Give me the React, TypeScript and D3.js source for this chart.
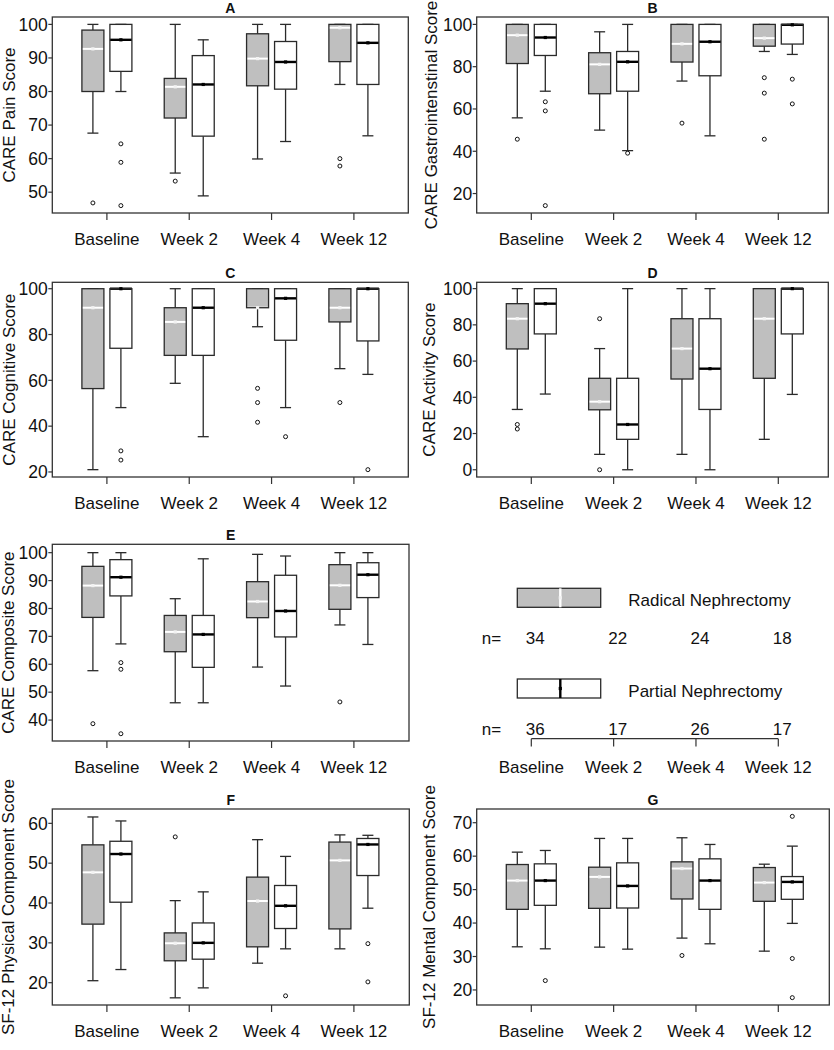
import React from "react";
import * as d3 from "d3";

const categories = ["Baseline", "Week 2", "Week 4", "Week 12"];

// [lowWhisker, Q1, median, Q3, highWhisker]
const painRN = [[67.6, 80, 92.7, 98.3, 100], [55.7, 72.1, 81.4, 83.9, 100], [59.9, 81.7, 89.8, 97.2, 100], [82.1, 88.9, 99, 100, 100]];
const painRNOut = [[46.8], [53.3], [], [60, 57.8]];
const painPN = [[80, 86, 95.4, 100, 100], [48.9, 66.7, 82.1, 90.7, 95.4], [65.1, 80.7, 88.8, 94.9, 100], [66.8, 82.1, 94.5, 100, 100]];
const painPNOut = [[64.4, 58.9, 46], [], [], []];

const giRN = [[55.8, 81.5, 94.9, 100, 100], [50, 67.2, 81.1, 86.6, 96.5], [73.2, 82.2, 90.8, 100, 100], [87.2, 89.7, 93.5, 100, 100]];
const giRNOut = [[45.7], [], [53.3], [74.8, 67.5, 45.7]];
const giPN = [[68.4, 85.3, 93.8, 100, 100], [40.3, 68.4, 82.3, 87.2, 100], [47.3, 75.7, 91.8, 100, 100], [85.8, 90.7, 99.8, 100, 100]];
const giPNOut = [[63.4, 59.1, 14.3], [39.1], [], [74.1, 62.4]];

const cogRN = [[21, 56.4, 91.7, 100, 100], [58.7, 70.9, 85.5, 91.7, 100], [83.4, 91.7, 91.7, 100, 100], [65.1, 85.5, 91.7, 100, 100]];
const cogRNOut = [[], [], [56.5, 50.3, 41.7], [50.3]];
const cogPN = [[48.1, 74, 100, 100, 100], [35.4, 70.9, 91.7, 100, 100], [48.1, 77.5, 95.8, 100, 100], [62.6, 77.2, 100, 100, 100]];
const cogPNOut = [[29.2, 25.2], [], [35.4], [21]];

const actRN = [[33.3, 66.7, 83.4, 91.7, 100], [8.5, 33.1, 37.6, 50.5, 66.9], [8.5, 50.1, 66.9, 83.4, 100], [16.8, 50.5, 83.4, 100, 100]];
const actRNOut = [[25, 22.5], [83.4, 0], [], []];
const actPN = [[41.8, 75, 91.7, 100, 100], [0, 16.8, 25, 50.5, 100], [0, 33.3, 55.8, 83.4, 100], [41.6, 75, 100, 100, 100]];
const actPNOut = [[], [], [], []];

const compRN = [[57.7, 76.8, 88.2, 95.1, 100], [46.2, 64.5, 71.6, 77.5, 83.5], [59, 76.7, 82.5, 89.6, 99.4], [74.1, 79.7, 88.3, 95.7, 100]];
const compRNOut = [[38.7], [], [], [46.5]];
const compPN = [[67.3, 84.5, 91.2, 97.5, 100], [46.2, 58.9, 70.7, 77.5, 97.8], [52.2, 69.8, 79.1, 91.9, 98.8], [67.1, 83.9, 92.1, 96.4, 100]];
const compPNOut = [[60.6, 58.2, 35.1], [], [], []];

const pcsRN = [[20.5, 34.7, 47.7, 54.6, 61.6], [16.2, 25.5, 29.9, 32.5, 40.6], [24.9, 29, 40.5, 46.5, 55.9], [28.5, 33.5, 50.7, 55.3, 57.1]];
const pcsRNOut = [[], [56.6], [], []];
const pcsPN = [[23.3, 40.2, 52.3, 55.5, 60.6], [18.7, 25.9, 30, 35, 42.8], [28.5, 33.6, 39.3, 44.4, 51.7], [38.7, 46.9, 54.7, 56.2, 57]];
const pcsPNOut = [[], [], [16.7], [29.8, 20.2]];

const mcsRN = [[32.9, 44.1, 52.7, 57.5, 61.2], [32.8, 44.4, 53.8, 56.7, 65.3], [35.5, 47.2, 56.3, 58.3, 65.5], [31.6, 46.5, 52.1, 56.6, 57.6]];
const mcsRNOut = [[], [], [30.3], []];
const mcsPN = [[32.3, 45.3, 52.7, 57.7, 61.7], [32.2, 44.5, 51.1, 58, 65.3], [33.8, 44.1, 52.7, 59.2, 63.5], [39.9, 47.1, 52.3, 53.9, 63]];
const mcsPNOut = [[22.8], [], [], [71.9, 29.4, 17.7]];

const nRadical = [34, 22, 24, 18];
const nPartial = [36, 17, 26, 17];

const painTicks = [50, 60, 70, 80, 90, 100];
const giTicks = [20, 40, 60, 80, 100];
const cogTicks = [20, 40, 60, 80, 100];
const actTicks = [0, 20, 40, 60, 80, 100];
const compTicks = [40, 50, 60, 70, 80, 90, 100];
const pcsTicks = [20, 30, 40, 50, 60];
const mcsTicks = [20, 30, 40, 50, 60, 70];

const FONT = "'Liberation Sans', Arial, Helvetica, sans-serif";
const GREY = "#bfbfbf";
const DARK = "#2a2a2a";
const TXT = "#111";

const panels = [
  { title: "A", label: "CARE Pain Score", rn: painRN, rnOut: painRNOut, pn: painPN, pnOut: painPNOut, ticks: painTicks, domain: [43.8, 102.2], left: 52.3, right: 408.3, top: 17, bottom: 213, lx: 15 },
  { title: "B", label: "CARE Gastrointenstinal Score", rn: giRN, rnOut: giRNOut, pn: giPN, pnOut: giPNOut, ticks: giTicks, domain: [10.8, 103.5], left: 476.7, right: 828.3, top: 17, bottom: 213, lx: 436.5 },
  { title: "C", label: "CARE Cognitive Score", rn: cogRN, rnOut: cogRNOut, pn: cogPN, pnOut: cogPNOut, ticks: cogTicks, domain: [17.8, 102.8], left: 52.3, right: 408.3, top: 282.3, bottom: 477, lx: 15 },
  { title: "D", label: "CARE Activity Score", rn: actRN, rnOut: actRNOut, pn: actPN, pnOut: actPNOut, ticks: actTicks, domain: [-4, 103.5], left: 476.7, right: 828.3, top: 282.3, bottom: 477, lx: 435 },
  { title: "E", label: "CARE Composite Score", rn: compRN, rnOut: compRNOut, pn: compPN, pnOut: compPNOut, ticks: compTicks, domain: [32.5, 103], left: 52.3, right: 409, top: 544.3, bottom: 741, lx: 14 },
  { title: "F", label: "SF-12 Physical Component Score", rn: pcsRN, rnOut: pcsRNOut, pn: pcsPN, pnOut: pcsPNOut, ticks: pcsTicks, domain: [14.4, 63.6], left: 52.3, right: 409.3, top: 809, bottom: 1005, lx: 14 },
  { title: "G", label: "SF-12 Mental Component Score", rn: mcsRN, rnOut: mcsRNOut, pn: mcsPN, pnOut: mcsPNOut, ticks: mcsTicks, domain: [15.5, 74.1], left: 476.7, right: 829.3, top: 809, bottom: 1005, lx: 435 },
];

function Box({ cx, s, out, y, filled }: any) {
  const [lo, q1, med, q3, hi] = s;
  const w = 22;
  const x0 = cx - w / 2;
  const cap = 5.5;
  const medColor = filled ? "#ffffff" : "#000000";
  return (
    <g>
      <line x1={cx} x2={cx} y1={y(q3)} y2={y(hi)} stroke={DARK} strokeWidth={1.3} />
      <line x1={cx} x2={cx} y1={y(q1)} y2={y(lo)} stroke={DARK} strokeWidth={1.3} />
      <line x1={cx - cap} x2={cx + cap} y1={y(hi)} y2={y(hi)} stroke={DARK} strokeWidth={1.3} />
      <line x1={cx - cap} x2={cx + cap} y1={y(lo)} y2={y(lo)} stroke={DARK} strokeWidth={1.3} />
      <rect x={x0} y={y(q3)} width={w} height={Math.max(0, y(q1) - y(q3))} fill={filled ? GREY : "#ffffff"} />
      <line x1={x0} x2={x0 + w} y1={y(med)} y2={y(med)} stroke={medColor} strokeWidth={filled ? 2 : 2.4} />
      <rect x={x0} y={y(q3)} width={w} height={Math.max(0, y(q1) - y(q3))} fill="none" stroke={DARK} strokeWidth={1.3} />
      <rect x={cx - 1.6} y={y(med) - 1.6} width={3.2} height={3.2} fill={filled ? "#f2f2f2" : "#000"} />
      {out.map((v: number, i: number) => (
        <circle key={i} cx={cx} cy={y(v)} r={2} fill="none" stroke="#111" strokeWidth={1} />
      ))}
    </g>
  );
}

function Panel({ p }: any) {
  const y = d3.scaleLinear().domain(p.domain).range([p.bottom, p.top]);
  const x = d3.scalePoint().domain(categories).range([p.left + 54.6, p.left + 54.6 + 247]);
  const cy = (p.top + p.bottom) / 2;
  return (
    <g fill={TXT}>
      <text x={(p.left + p.right) / 2} y={p.top - 4.5} textAnchor="middle" fontWeight="bold" fontSize={14} fontFamily={FONT}>{p.title}</text>
      {categories.map((c, i) => (
        <g key={c}>
          <Box cx={(x(c) as number) - 14} s={p.rn[i]} out={p.rnOut[i]} y={y} filled={true} />
          <Box cx={(x(c) as number) + 14} s={p.pn[i]} out={p.pnOut[i]} y={y} filled={false} />
        </g>
      ))}
      <rect x={p.left} y={p.top} width={p.right - p.left} height={p.bottom - p.top} fill="none" stroke="#333" strokeWidth={1.3} />
      {p.ticks.map((t: number) => (
        <g key={t}>
          <line x1={p.left - 4} x2={p.left} y1={y(t)} y2={y(t)} stroke="#333" strokeWidth={1.2} />
          <text x={p.left - 4.5} y={y(t)} dy="0.36em" textAnchor="end" fontSize={17.5} fontFamily={FONT}>{t}</text>
        </g>
      ))}
      {categories.map((c) => (
        <g key={c}>
          <line x1={x(c)} x2={x(c)} y1={p.bottom} y2={p.bottom + 7} stroke="#333" strokeWidth={1.2} />
          <text x={x(c)} y={p.bottom + 31.5} textAnchor="middle" fontSize={17} fontFamily={FONT}>{c}</text>
        </g>
      ))}
      <text transform={`translate(${p.lx},${cy}) rotate(-90)`} textAnchor="middle" fontSize={17} fontFamily={FONT}>{p.label}</text>
    </g>
  );
}

function Legend() {
  const x = d3.scalePoint().domain(categories).range([531.3, 778.3]);
  const bx = 517.3, bw = 83.4, bh = 19;
  const mx = 560.3;
  return (
    <g fontFamily={FONT} fontSize={17} fill={TXT}>
      <rect x={bx} y={588.3} width={bw} height={bh} fill={GREY} stroke={DARK} strokeWidth={1.3} />
      <line x1={mx} x2={mx} y1={588.3} y2={588.3 + bh} stroke="#fff" strokeWidth={2.4} />
      <rect x={mx - 1.6} y={588.3 + bh / 2 - 1.6} width={3.2} height={3.2} fill="#f2f2f2" />
      <text x={628.3} y={605.7}>Radical Nephrectomy</text>
      <text x={481.7} y={644.3}>n=</text>
      {categories.map((c, i) => (
        <text key={c} x={(x(c) as number) + 4} y={644.3} textAnchor="middle">{nRadical[i]}</text>
      ))}
      <rect x={bx} y={679} width={bw} height={bh} fill="#fff" stroke={DARK} strokeWidth={1.3} />
      <line x1={mx} x2={mx} y1={679} y2={679 + bh} stroke="#000" strokeWidth={2.4} />
      <rect x={mx - 1.6} y={679 + bh / 2 - 1.6} width={3.2} height={3.2} fill="#000" />
      <text x={628.3} y={696.7}>Partial Nephrectomy</text>
      <text x={481.7} y={735}>n=</text>
      {categories.map((c, i) => (
        <text key={c} x={(x(c) as number) + 4} y={735} textAnchor="middle">{nPartial[i]}</text>
      ))}
      <line x1={531.3} x2={778.3} y1={738.7} y2={738.7} stroke="#333" strokeWidth={1.2} />
      {categories.map((c) => (
        <g key={c}>
          <line x1={x(c)} x2={x(c)} y1={738.7} y2={746.5} stroke="#333" strokeWidth={1.2} />
          <text x={x(c)} y={772.8} textAnchor="middle">{c}</text>
        </g>
      ))}
    </g>
  );
}

export default function App() {
  return (
    <svg width={834} height={1050} style={{ position: "absolute", left: 0, top: 0, background: "#fff" }}>
      <rect x={0} y={0} width={834} height={1050} fill="#fff" />
      {panels.map((p) => (
        <Panel key={p.title} p={p} />
      ))}
      <Legend />
    </svg>
  );
}
